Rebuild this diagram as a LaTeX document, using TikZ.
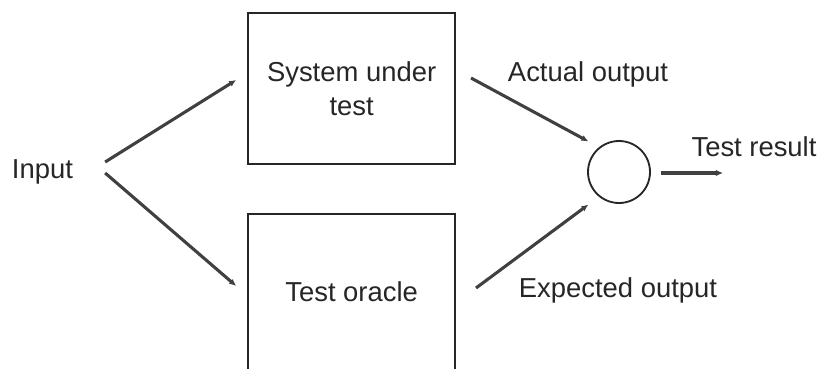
\documentclass[tikz,border=0pt]{standalone}
\usepackage{fontspec}
\setmainfont{Liberation Sans}
\usetikzlibrary{arrows.meta}
\definecolor{ink}{HTML}{262626}
\definecolor{wire}{HTML}{404040}
\tikzstyle{block}=[draw=ink, line width=1.3pt, minimum width=5.175cm, minimum height=3.775cm, align=center, text=ink]
\tikzstyle{label}=[text=ink, inner sep=0pt]
\tikzstyle{edge}=[draw=wire, line width=2.2pt, -{Latex[length=5pt,width=4.5pt]}]

\begin{document}
\begin{tikzpicture}[font=\fontsize{19.5}{24}\selectfont]
            \clip (0,0) rectangle (20.45,9.2);
            \node[label] (input) at (1.06,4.9) {Input};
            \node[block] (sut) at (8.79,6.99) {System under\\test};
            \node[block, minimum height=3.9cm] (oracle) at (8.79,1.9) {Test oracle};
            \node[draw=ink, line width=1.3pt, circle, minimum size=1.55cm] (cmp) at (15.475,4.9) {};
            \node[label] (actual) at (14.7,7.35) {Actual output};
            \node[label] (expected) at (15.45,1.95) {Expected output};
            \node[label] (result) at (18.85,5.525) {Test result};
            \coordinate (out) at (18.075,4.875);
            \draw[edge] ([shift={(0.8,0.25)}]input.east) -- ([shift={(-0.275,0.21)}]sut.west);
            \draw[edge] ([shift={(0.8,-0.025)}]input.east) -- ([shift={(-0.275,0.15)}]oracle.west);
            \draw[edge] ([shift={(0.375,0.26)}]sut.east) -- ([shift={(-0.2,0.2)}]cmp.135);
            \draw[edge] ([shift={(0.5,0.1)}]oracle.east) -- ([shift={(-0.2,-0.25)}]cmp.225);
            \draw[edge] ([shift={(0.25,-0.025)}]cmp.east) -- (out);
        \end{tikzpicture}
\end{document}
